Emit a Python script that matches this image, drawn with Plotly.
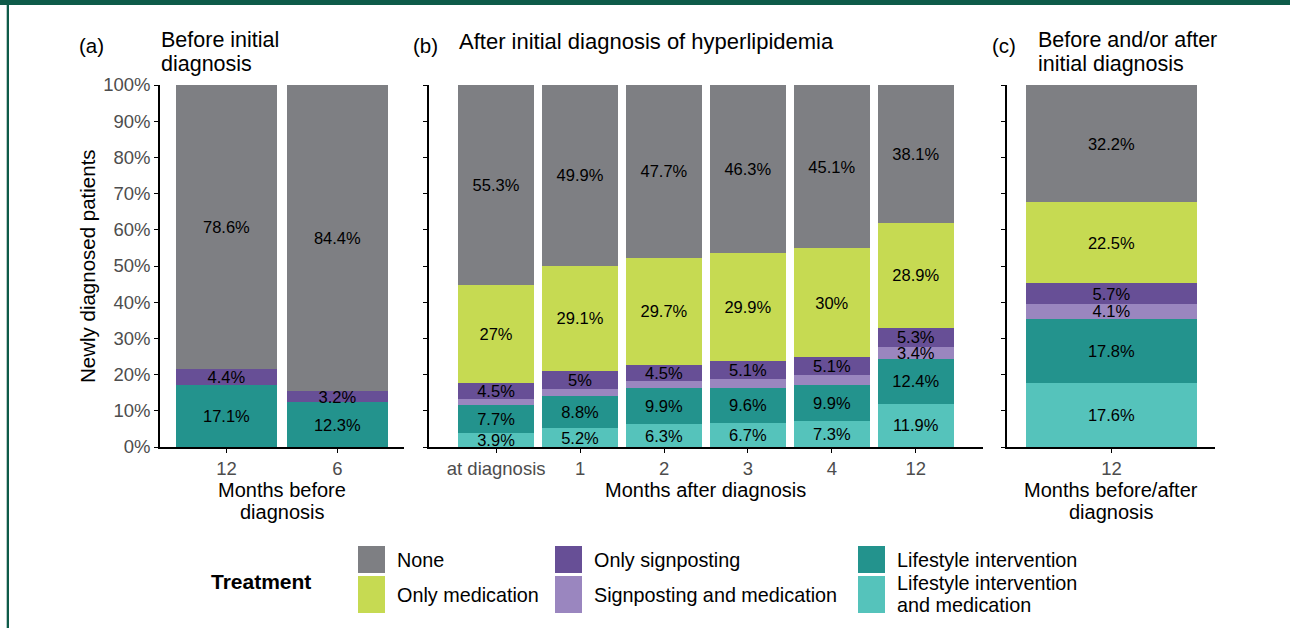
import plotly.graph_objects as go

# ---------------- data ----------------
treatments = ["Lifestyle intervention and medication", "Lifestyle intervention",
              "Signposting and medication", "Only signposting", "Only medication", "None"]
colors = {"None": "#7e7f83", "Only medication": "#c6da52", "Only signposting": "#674f96",
          "Signposting and medication": "#9a86bf", "Lifestyle intervention": "#23938d",
          "Lifestyle intervention and medication": "#55c3bb"}

categories_a = ["12", "6"]
none_a = [78.6, 84.4]
signposting_a = [4.4, 3.2]
lifestyle_a = [17.1, 12.3]

categories_b = ["at diagnosis", "1", "2", "3", "4", "12"]
lifestyle_med_b = [3.9, 5.2, 6.3, 6.7, 7.3, 11.9]
lifestyle_b = [7.7, 8.8, 9.9, 9.6, 9.9, 12.4]
sig_med_b = [1.6, 2.0, 1.9, 2.4, 2.6, 3.4]
signposting_b = [4.5, 5.0, 4.5, 5.1, 5.1, 5.3]
medication_b = [27.0, 29.1, 29.7, 29.9, 30.0, 28.9]
none_b = [55.3, 49.9, 47.7, 46.3, 45.1, 38.1]

categories_c = ["12"]
lifestyle_med_c = [17.6]
lifestyle_c = [17.8]
sig_med_c = [4.1]
signposting_c = [5.7]
medication_c = [22.5]
none_c = [32.2]

y_ticks = [0, 10, 20, 30, 40, 50, 60, 70, 80, 90, 100]
y_tick_labels = [f"{t}%" for t in y_ticks]

panel_a = [("Lifestyle intervention", lifestyle_a), ("Only signposting", signposting_a), ("None", none_a)]
panel_b = [("Lifestyle intervention and medication", lifestyle_med_b), ("Lifestyle intervention", lifestyle_b),
           ("Signposting and medication", sig_med_b), ("Only signposting", signposting_b),
           ("Only medication", medication_b), ("None", none_b)]
panel_c = [("Lifestyle intervention and medication", lifestyle_med_c), ("Lifestyle intervention", lifestyle_c),
           ("Signposting and medication", sig_med_c), ("Only signposting", signposting_c),
           ("Only medication", medication_c), ("None", none_c)]

# ---------------- layout helpers ----------------
W, H = 1290, 628
FONT = "Liberation Sans, Arial, Helvetica, sans-serif"
GREEN = "#0e5b49"
TICKGREY = "#4d4d4d"


def px_x(x):
    return x / W


def px_y(y):
    return 1 - y / H


fig = go.Figure()


def add_panel(series, cats, xa, ya, width):
    for name, vals in series:
        fig.add_trace(go.Bar(
            x=cats, y=vals, name=name, marker=dict(color=colors[name], line=dict(width=0)),
            width=[width] * len(cats),
            text=[f"{v:g}%" if v >= 3 else "" for v in vals],
            textposition="inside", insidetextanchor="middle", constraintext="none",
            textangle=0, textfont=dict(color="black", size=16.5, family=FONT),
            xaxis=xa, yaxis=ya, showlegend=False, hoverinfo="name+y",
        ))


add_panel(panel_a, categories_a, "x", "y", 0.91)
add_panel(panel_b, categories_b, "x2", "y2", 0.905)
add_panel(panel_c, categories_c, "x3", "y3", 0.9)

ydom = [px_y(447), px_y(85)]
axis_common = dict(showline=True, linecolor="black", linewidth=1.6, ticks="outside",
                   ticklen=4, tickwidth=1.4, tickcolor="black", showgrid=False, zeroline=False,
                   automargin=False, fixedrange=True,
                   tickfont=dict(size=18.5, color=TICKGREY, family=FONT))

fig.update_layout(
    template="none",
    width=W, height=H, margin=dict(l=0, r=0, t=0, b=0, pad=0, autoexpand=False),
    paper_bgcolor="white", plot_bgcolor="white", barmode="stack",
    font=dict(family=FONT, color="black"),
    xaxis=dict(domain=[px_x(160), px_x(404)], type="category", range=[-0.6, 1.6],
               anchor="y", **axis_common),
    xaxis2=dict(domain=[px_x(429), px_x(983)], type="category", range=[-0.8, 5.8],
                anchor="y2", **axis_common),
    xaxis3=dict(domain=[px_x(1007), px_x(1215)], type="category", range=[-0.55, 0.545],
                anchor="y3", **axis_common),
    yaxis=dict(domain=ydom, range=[0, 100], tickvals=y_ticks, ticktext=y_tick_labels,
               anchor="x", **axis_common),
    yaxis2=dict(domain=ydom, range=[0, 100], tickvals=y_ticks, showticklabels=False,
                anchor="x2", **axis_common),
    yaxis3=dict(domain=ydom, range=[0, 100], tickvals=y_ticks, showticklabels=False,
                anchor="x3", **axis_common),
)

annotations = []


def txt(text, x, y, size, xanchor="left", yanchor="middle", **kw):
    annotations.append(dict(text=text, x=px_x(x), y=px_y(y), xref="paper", yref="paper",
                            xanchor=xanchor, yanchor=yanchor, showarrow=False,
                            font=dict(size=size, family=FONT, color=kw.pop("color", "black")),
                            **kw))


# panel labels and titles
txt("(a)", 77, 45, 20.5)
txt("Before initial", 159, 40, 21.5)
txt("diagnosis", 159, 64, 21.5)
txt("(b)", 411, 45, 20.5)
txt("After initial diagnosis of hyperlipidemia", 457, 41, 22)
txt("(c)", 990, 45, 20.5)
txt("Before and/or after", 1036, 40, 21.5)
txt("initial diagnosis", 1036, 64, 21.5)

# axis titles
txt("Months before", 282, 490, 20, xanchor="center")
txt("diagnosis", 282, 512, 20, xanchor="center")
txt("Months after diagnosis", 706, 490, 20, xanchor="center")
txt("Months before/after", 1111, 490, 20, xanchor="center")
txt("diagnosis", 1111, 512, 20, xanchor="center")
txt("Newly diagnosed patients", 87, 266, 20.5, xanchor="center", textangle=-90)

# custom legend
legend_title = "Treatment"
legend_cols = [["None", "Only medication"],
               ["Only signposting", "Signposting and medication"],
               ["Lifestyle intervention", "Lifestyle intervention and medication"]]
legend_display = {"Lifestyle intervention and medication": ["Lifestyle intervention", "and medication"]}
col_x = [358, 555, 858]
row_y = [(546, 573), (576, 613)]
shapes = []
txt(f"<b>{legend_title}</b>", 209, 581, 21)
for ci, col in enumerate(legend_cols):
    for ri, name in enumerate(col):
        y0, y1 = row_y[ri]
        shapes.append(dict(type="rect", xref="paper", yref="paper",
                           x0=px_x(col_x[ci]), x1=px_x(col_x[ci] + 27),
                           y0=px_y(y1), y1=px_y(y0), fillcolor=colors[name], line=dict(width=0)))
        if name in legend_display:
            l1, l2 = legend_display[name]
            txt(l1, col_x[ci] + 37, 583, 19.8)
            txt(l2, col_x[ci] + 37, 605, 19.8)
        else:
            txt(name, col_x[ci] + 37, (y0 + y1) / 2 + 0.5, 19.8)

# frame
shapes.append(dict(type="rect", xref="paper", yref="paper", x0=0, x1=1, y0=px_y(5), y1=1,
                   fillcolor=GREEN, line=dict(width=0)))
shapes.append(dict(type="rect", xref="paper", yref="paper", x0=px_x(6.7), x1=px_x(9), y0=0, y1=1,
                   fillcolor=GREEN, line=dict(width=0)))

fig.update_layout(annotations=annotations, shapes=shapes)
fig.write_html("out.html", config={"displayModeBar": False},
               post_script="document.body.style.margin='0';document.body.style.padding='0';"
                           "document.body.style.overflow='hidden';")
